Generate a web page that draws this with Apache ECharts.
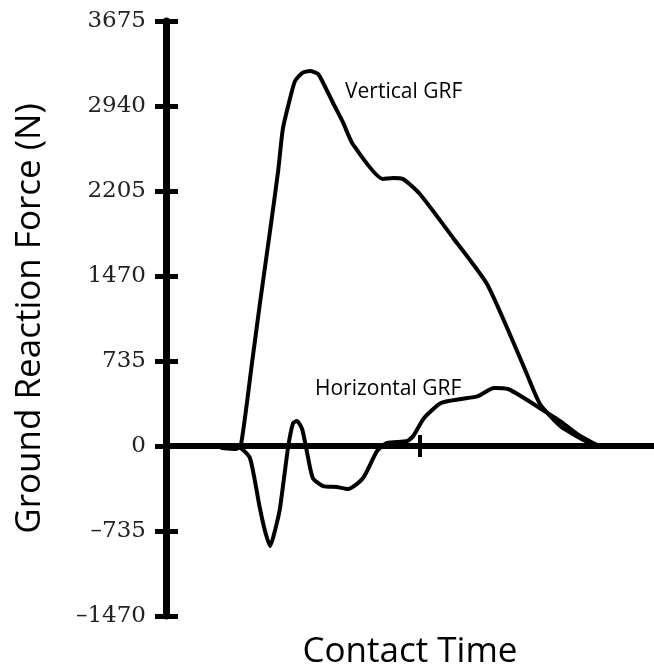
<!DOCTYPE html>
<html>
<head>
<meta charset="utf-8">
<title>Ground Reaction Force</title>
<script src="https://cdn.jsdelivr.net/npm/echarts@6/dist/echarts.min.js"></script>
<style>
  html, body { margin: 0; padding: 0; background: #fff; }
  #chart { width: 654px; height: 670px; }
</style>
</head>
<body>
<div id="chart"></div>
<script>
// contact time (arbitrary units, 0..104) and force in newtons
var verticalTime = [11.9, 14.9, 16.0, 18.3, 20.0, 22.2, 23.9, 24.9, 26.4, 27.5, 29.0, 30.7, 32.4, 33.5, 35.6, 37.7, 39.8, 46.2, 48.4, 50.5, 54.1, 61.2, 68.4, 73.9, 76.9, 79.7, 84.0, 88.2, 91.4]
var verticalForce = [-17, -26, 17, 709, 1228, 1868, 2378, 2741, 3000, 3156, 3225, 3243, 3217, 3139, 2966, 2800, 2611, 2309, 2317, 2309, 2179, 1799, 1401, 908, 622, 363, 173, 69, 0]

var horizontalTime = [13.2, 15.8, 17.9, 20.0, 21.1, 22.2, 23.2, 24.3, 26.0, 27.1, 27.9, 29.0, 30.0, 31.3, 33.5, 36.4, 38.8, 42.0, 45.0, 47.1, 51.4, 52.7, 55.0, 58.6, 62.9, 66.5, 69.9, 72.9, 76.3, 80.6, 84.0, 87.6, 91.0, 92.5]
var horizontalForce = [-9, -17, -104, -536, -735, -865, -735, -536, -17, 199, 216, 147, -43, -277, -346, -355, -372, -277, -43, 26, 43, 86, 242, 372, 406, 432, 502, 493, 415, 303, 216, 104, 26, 0]

var yTicks = [-1470, -735, 0, 735, 1470, 2205, 2940, 3675]
var xTickMarks = [54]

function pairs(xs, ys) {
  return xs.map(function (x, i) { return [x, ys[i]] })
}

var chart = echarts.init(document.getElementById('chart'))

var tickLabel = {
  fontFamily: 'DejaVu Serif',
  fontSize: 23,
  color: '#222',
  margin: 20,
  formatter: function (v) { return v < 0 ? '\u2013' + Math.abs(v) : String(v) }
}

var option = {
  animation: false,
  grid: { left: 166, right: 0, top: 21, bottom: 54, outerBoundsMode: 'none' },
  xAxis: [
    {
      type: 'value', min: 0, max: 104, position: 'bottom',
      axisLine: { onZero: true, lineStyle: { color: '#000', width: 6 } },
      axisTick: { show: true, customValues: xTickMarks, length: 11, lineStyle: { color: '#000', width: 4 } },
      axisLabel: { show: false },
      splitLine: { show: false },
      name: 'Contact Time',
      nameLocation: 'middle',
      nameGap: 19,
      nameTextStyle: { fontFamily: 'Open Sans', fontSize: 35, color: '#000' }
    },
    {
      type: 'value', min: 0, max: 104, position: 'bottom',
      axisLine: { show: false, onZero: true },
      axisTick: { show: true, inside: true, customValues: xTickMarks, length: 11, lineStyle: { color: '#000', width: 4 } },
      axisLabel: { show: false },
      splitLine: { show: false }
    }
  ],
  yAxis: [
    {
      type: 'value', min: yTicks[0], max: yTicks[yTicks.length - 1], interval: 735, position: 'left',
      axisLine: { show: true, lineStyle: { color: '#000', width: 7 } },
      axisTick: { show: true, length: 11, lineStyle: { color: '#000', width: 5 } },
      axisLabel: tickLabel,
      splitLine: { show: false },
      name: 'Ground Reaction Force (N)',
      nameLocation: 'middle',
      nameGap: 118,
      nameTextStyle: { fontFamily: 'Open Sans', fontSize: 35, color: '#000' }
    },
    {
      type: 'value', min: yTicks[0], max: yTicks[yTicks.length - 1], interval: 735, position: 'left',
      axisLine: { show: false },
      axisTick: { show: true, inside: true, length: 12, lineStyle: { color: '#000', width: 5 } },
      axisLabel: { show: false },
      splitLine: { show: false }
    }
  ],
  graphic: [
    { type: 'text', x: 345, y: 92, style: { text: 'Vertical GRF', font: '21px "Open Sans"', fill: '#000', verticalAlign: 'middle' } },
    { type: 'text', x: 315, y: 389, style: { text: 'Horizontal GRF', font: '21px "Open Sans"', fill: '#000', verticalAlign: 'middle' } }
  ],
  series: [
    {
      name: 'Vertical GRF',
      type: 'line',
      data: pairs(verticalTime, verticalForce),
      smooth: 0.2,
      showSymbol: false,
      lineStyle: { color: '#000', width: 4, join: 'round', cap: 'round' }
    },
    {
      name: 'Horizontal GRF',
      type: 'line',
      data: pairs(horizontalTime, horizontalForce),
      smooth: 0.2,
      showSymbol: false,
      lineStyle: { color: '#000', width: 4, join: 'round', cap: 'round' }
    }
  ]
}

chart.setOption(option)
</script>
</body>
</html>
